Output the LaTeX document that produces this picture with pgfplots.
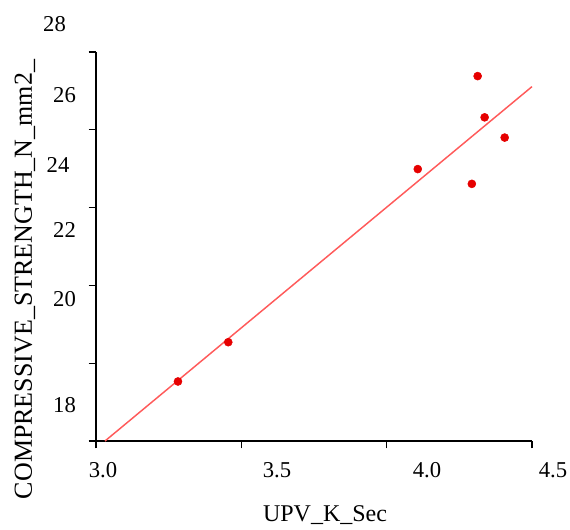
\documentclass[border=0pt]{standalone}
\usepackage{fontspec}
\setmainfont{Liberation Serif}
\usepackage{pgfplots}
\pgfplotsset{compat=1.18}

\definecolor{dotred}{RGB}{230,0,0}
\definecolor{linered}{RGB}{255,90,90}

\begin{document}
\begin{tikzpicture}
% page = 570x530 px at 0.75pt per px, axis box from (96,52) to (532,441)
\useasboundingbox (-72pt,-66.75pt) rectangle (355.5pt,330.75pt);
\begin{axis}[
    at={(0,0)}, anchor=south west,
    scale only axis,
    width=327pt, height=291.75pt,
    xmin=3.0, xmax=4.5, ymin=16, ymax=26,
    axis lines=left,
    axis line style={black, line width=1.1pt, -},
    xtick={3.0,3.5,4.0,4.5}, ytick={16,18,20,22,24,26},
    xticklabels={}, yticklabels={},
    tick align=outside,
    major tick length=5.5pt,
    tick style={black, line width=1pt},
    clip=false,
]
\addplot[linered, line width=1.1pt] coordinates {(3.031,16) (4.5,25.11)};
\addplot[only marks, mark=*, mark size=3pt, dotred, mark options={draw=dotred, fill=dotred}]
    coordinates {(3.282,17.53) (3.455,18.54) (4.107,22.99) (4.293,22.61)
                 (4.313,25.38) (4.337,24.32) (4.406,23.80)};
\end{axis}
% tick labels as drawn in the reference (offset from the tick marks)
\begingroup
\fontsize{17}{20}\selectfont
\node at (5.25pt,-21.75pt) {3.0};
\node at (135.75pt,-21.75pt) {3.5};
\node at (248.25pt,-21.75pt) {4.0};
\node at (342.75pt,-21.75pt) {4.5};
\node at (-31.1pt,312.75pt) {28};
\node at (-23.6pt,259.5pt) {26};
\node at (-28.5pt,207pt) {24};
\node at (-23.6pt,158.25pt) {22};
\node at (-23.6pt,106.1pt) {20};
\node at (-23.6pt,27pt) {18};
\endgroup
\node[font=\fontsize{18}{21}\selectfont] at (171.75pt,-55.5pt) {UPV\_K\_Sec};
\node[font=\fontsize{19.5}{22}\selectfont, rotate=90] at (-53.25pt,121.1pt) {COMPRESSIVE\_STRENGTH\_N\_mm2\_};
\end{tikzpicture}
\end{document}
